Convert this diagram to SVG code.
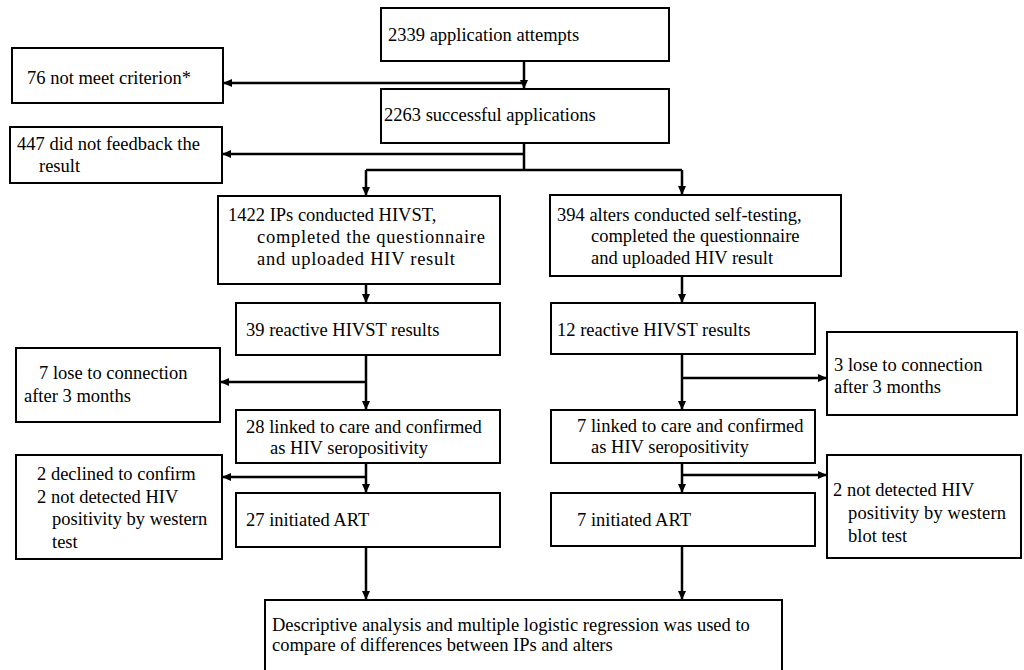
<svg xmlns="http://www.w3.org/2000/svg" width="1024" height="670" viewBox="0 0 1024 670">
<style>
.box{fill:#fff;stroke:#000;stroke-width:2}
.t{font-family:"Liberation Serif","Times New Roman",serif;font-size:18.5px;fill:#000}
.c{fill:none;stroke:#000;stroke-width:2.5}
</style>
<defs>
<marker id="ah" markerUnits="userSpaceOnUse" markerWidth="9" markerHeight="8" refX="9" refY="4" orient="auto">
<path d="M0,0 L9,4 L0,8 z" fill="#000"/>
</marker>
</defs>
<rect width="1024" height="670" fill="#fff"/>
<g id="connectors">
<path class="c" d="M524,61 V89" marker-end="url(#ah)"/>
<path class="c" d="M524,83 H223" marker-end="url(#ah)"/>
<path class="c" d="M524,143 V170 M366,170 H682"/>
<path class="c" d="M524,154 H222" marker-end="url(#ah)"/>
<path class="c" d="M366,170 V196" marker-end="url(#ah)"/>
<path class="c" d="M682,170 V195" marker-end="url(#ah)"/>
<path class="c" d="M366,284 V303" marker-end="url(#ah)"/>
<path class="c" d="M682,276 V303" marker-end="url(#ah)"/>
<path class="c" d="M366,355 V410" marker-end="url(#ah)"/>
<path class="c" d="M366,382 H220" marker-end="url(#ah)"/>
<path class="c" d="M682,354 V410" marker-end="url(#ah)"/>
<path class="c" d="M682,378 H827" marker-end="url(#ah)"/>
<path class="c" d="M366,463 V493" marker-end="url(#ah)"/>
<path class="c" d="M366,477 H222" marker-end="url(#ah)"/>
<path class="c" d="M682,463 V493" marker-end="url(#ah)"/>
<path class="c" d="M682,475 H827" marker-end="url(#ah)"/>
<path class="c" d="M366,547 V600" marker-end="url(#ah)"/>
<path class="c" d="M682,546 V600" marker-end="url(#ah)"/>
</g>
<g id="n2339"><rect class="box" x="381" y="8" width="288" height="53"/><text class="t" x="388" y="41">2339 application attempts</text></g>
<g id="n76"><rect class="box" x="12" y="48" width="211" height="55"/><text class="t" x="27" y="84">76 not meet criterion*</text></g>
<g id="n2263"><rect class="box" x="381" y="89" width="288" height="54"/><text class="t" x="384" y="121">2263 successful applications</text></g>
<g id="n447"><rect class="box" x="10" y="127" width="212" height="56"/><text class="t" x="17" y="150">447 did not feedback the</text><text class="t" x="39" y="172">result</text></g>
<g id="n1422"><rect class="box" x="218" y="196" width="282" height="88"/><text class="t" x="228" y="221">1422 IPs conducted HIVST,</text><text class="t" x="257" y="243" textLength="228" lengthAdjust="spacing">completed the questionnaire</text><text class="t" x="257" y="265" textLength="198" lengthAdjust="spacing">and uploaded HIV result</text></g>
<g id="n394"><rect class="box" x="550" y="195" width="291" height="81"/><text class="t" x="557" y="221">394 alters conducted self-testing,</text><text class="t" x="591" y="242">completed  the questionnaire</text><text class="t" x="591" y="264">and uploaded HIV result</text></g>
<g id="n39"><rect class="box" x="236" y="303" width="264" height="52"/><text class="t" x="246" y="336">39 reactive HIVST results</text></g>
<g id="n12"><rect class="box" x="551" y="303" width="264" height="51"/><text class="t" x="557" y="336">12 reactive HIVST results</text></g>
<g id="n7lose"><rect class="box" x="16" y="348" width="204" height="74"/><text class="t" x="39" y="379">7 lose to connection</text><text class="t" x="24" y="402">after 3 months</text></g>
<g id="n3lose"><rect class="box" x="827" y="332" width="190" height="83"/><text class="t" x="834" y="371">3 lose to connection</text><text class="t" x="834" y="393">after 3 months</text></g>
<g id="n28"><rect class="box" x="236" y="410" width="264" height="53"/><text class="t" x="246" y="433">28 linked to care and confirmed</text><text class="t" x="270" y="454">as HIV seropositivity</text></g>
<g id="n7linked"><rect class="box" x="551" y="410" width="264" height="53"/><text class="t" x="577" y="432">7 linked to care and confirmed</text><text class="t" x="591" y="453">as HIV seropositivity</text></g>
<g id="n2declined"><rect class="box" x="16" y="455" width="206" height="104"/><text class="t" x="37" y="480">2 declined to confirm</text><text class="t" x="37" y="503">2 not detected HIV</text><text class="t" x="52" y="525">positivity by western</text><text class="t" x="52" y="548">test</text></g>
<g id="n2notdet"><rect class="box" x="827" y="455" width="194" height="103"/><text class="t" x="833" y="496">2 not detected HIV</text><text class="t" x="848" y="519" textLength="158" lengthAdjust="spacing">positivity by western</text><text class="t" x="848" y="542">blot test</text></g>
<g id="n27"><rect class="box" x="236" y="493" width="264" height="54"/><text class="t" x="246" y="526">27 initiated ART</text></g>
<g id="n7art"><rect class="box" x="551" y="493" width="264" height="53"/><text class="t" x="577" y="526">7 initiated ART</text></g>
<g id="nfinal"><rect class="box" x="265" y="600" width="517" height="80"/><text class="t" x="272" y="631">Descriptive analysis and multiple logistic regression was used to</text><text class="t" x="272" y="651">compare of differences between IPs and alters</text></g>
</svg>
